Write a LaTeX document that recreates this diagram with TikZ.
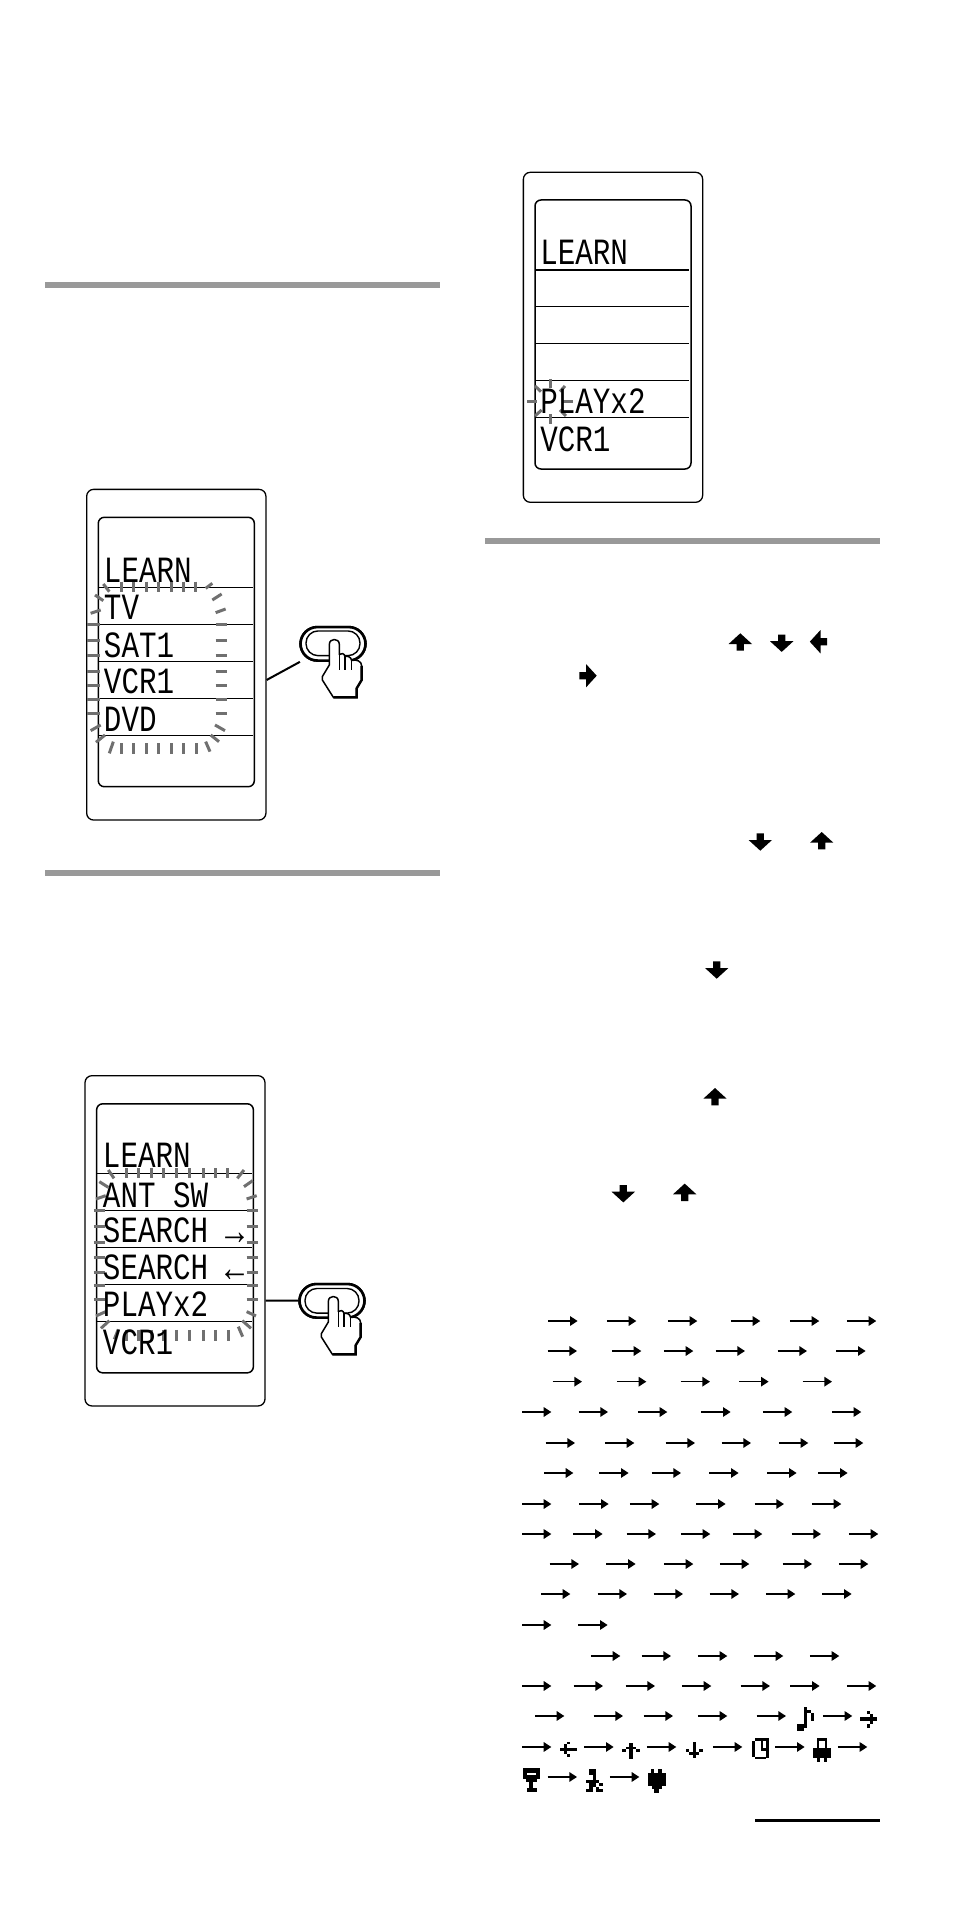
\documentclass[tikz,border=0pt]{standalone}
\usepackage{fontspec}
\usetikzlibrary{arrows.meta,shapes.misc}
\newfontfamily\lcdfont[FakeStretch=0.79]{Liberation Mono}
\definecolor{tickgray}{HTML}{707070}
\definecolor{bargray}{HTML}{999999}
\tikzset{
  devbox/.style={draw=black,line width=1.3pt,rounded corners=7pt,fill=white,inner sep=0pt,minimum width=#1},
  screenbox/.style={draw=black,line width=1.5pt,rounded corners=6pt,inner sep=0pt,minimum width=#1},
  lcd/.style={anchor=base west,inner sep=0pt,outer sep=0pt,font=\lcdfont\fontsize{37}{37}\selectfont},
  row/.style={line width=1.1pt},
  flash/.style={draw=tickgray,line width=3pt},
  sarrow/.style={line width=1.6pt,-{Triangle[length=7.6pt,width=9.4pt]}},
  btnout/.style={rectangle,draw=black,line width=2.6pt,fill=white,rounded corners=17pt,minimum width=65pt,minimum height=33.5pt,inner sep=0pt},
  btnin/.style={rectangle,draw=black,line width=1.4pt,rounded corners=12pt,minimum width=54pt,minimum height=24.7pt,inner sep=0pt},
  link/.style={line width=2pt},
  handline/.style={draw=black,line width=1.5pt,fill=white,line join=round},
  bar/.style={fill=bargray}
}
\newcommand{\lcdarr}[1]{\raisebox{-2pt}{\fontsize{40}{37}\selectfont #1}}
\newcommand{\bigarr}[3]{%
  \fill[black,shift={(#1,#2)},rotate=#3] (0,-8.7) -- (11.7,2) -- (3.6,2) -- (3.6,8.7) -- (-3.6,8.7) -- (-3.6,2) -- (-11.7,2) -- cycle;}
\newcommand{\handat}[1]{%
  \begin{scope}[shift={(#1)},x=0.3333pt,y=-0.3333pt]
    \draw[handline] (-11,63.5) -- (-11,2) .. controls (-11,-18) and (19,-18) .. (19,2) -- (19,32) .. controls (24,27) and (34,28) .. (36,38) .. controls (42,36) and (54,38) .. (56,50) .. controls (70,46) and (86,52) .. (86,66) -- (86,108.5) -- (71,133.5) -- (71,160.5) -- (1,160.5) -- (-32,108.5) -- (-32,98.5) -- cycle;
    \draw[line width=1.5pt] (19,32) -- (19,78) (36,38) -- (36,80) (56,50) -- (56,80);
    \draw[line width=2.4pt] (86,66) -- (86,108.5) -- (71,133.5) -- (71,160.5) -- (1,160.5);
  \end{scope}}
\begin{document}
\begin{tikzpicture}[x=1pt,y=-1pt]
\useasboundingbox (0,0) rectangle (954,1905);
\fill[white] (0,0) rectangle (954,1905);
% section bars
\fill[bar] (45,282) rectangle (440,288);
\fill[bar] (45,870) rectangle (440,876);
\fill[bar] (485,538) rectangle (880,544);
\coordinate (ruleA) at (755,1820.5);
\coordinate (ruleB) at (880,1820.5);
\draw[line width=2.7pt] (ruleA) -- (ruleB);

% ---- device 1
\node[devbox=179.3pt,minimum height=330.7pt] (dev1) at (176.3,654.7) {};
\node[screenbox=156pt,minimum height=269.4pt] (scr1) at (176.3,652) {};
\begin{scope}[shift={(70,480)},x=0.3333pt,y=-0.3333pt]
  \foreach \yy in {322,433,544,655,766} \draw[row] (85,\yy) -- (549,\yy);
  \foreach \xx in {155,192,230,267,305,342,378} \draw[flash] (\xx,305) -- (\xx,335);
  \foreach \xx in {155,192,230,267,305,342,380} \draw[flash] (\xx,790) -- (\xx,822);
  \foreach \yy in {433,481,527,575,618,660,702} {\draw[flash] (52,\yy) -- (90,\yy); \draw[flash] (437,\yy) -- (470,\yy);}
  \foreach \a/\b/\c/\d in {100/312/118/335,75/345/100/362,62/400/92/390,62/752/92/735,78/787/105/765,118/820/130/785,420/815/407/785,447/785/422/765,465/752/435/735,437/398/467/387,427/360/455/342,407/325/427/310}
    \draw[flash] (\a,\b) -- (\c,\d);
  \node[lcd] (t1a) at (102,307) {LEARN};
  \node[lcd] (t1b) at (102,419) {TV};
  \node[lcd] (t1c) at (102,532) {SAT1};
  \node[lcd] (t1d) at (102,642) {VCR1};
  \node[lcd] (t1e) at (102,754) {DVD};
  \coordinate (l1) at (590,600);
\end{scope}
\node[btnout] (btn1) at (333,643.8) {};
\draw[link] (l1) -- (btn1);
\node[btnout] at (btn1) {};
\node[btnin] (btn1i) at (333,643.3) {};
\handat{btn1.center}

% ---- device 2
\node[devbox=180pt,minimum height=330.3pt] (dev2) at (175,1240.8) {};
\node[screenbox=156.7pt,minimum height=269pt] (scr2) at (175,1238.3) {};
\begin{scope}[shift={(70,1070)},x=0.3333pt,y=-0.3333pt]
  \foreach \yy in {310,421,532,643,754} \draw[row] (80,\yy) -- (547,\yy);
  \foreach \xx in {170,207,245,282,320,360,400,438,472} \draw[flash] (\xx,295) -- (\xx,325);
  \foreach \xx in {170,207,245,282,320,360,400,438,475} \draw[flash] (\xx,780) -- (\xx,812);
  \foreach \yy in {421,470,517,563,607,648,690} {\draw[flash] (72,\yy) -- (105,\yy); \draw[flash] (530,\yy) -- (565,\yy);}
  \foreach \a/\b/\c/\d in {115/300/132/325,88/335/115/352,78/387/107/377,78/738/107/725,93/775/118/752,133/808/145/778,518/800/505/770,543/775/517/752,558/738/530/725,530/387/560/377,522/350/548/332,502/325/522/300}
    \draw[flash] (\a,\b) -- (\c,\d);
  \node[lcd] (t2a) at (99,292) {LEARN};
  \node[lcd] (t2b) at (99,412) {ANT SW};
  \node[lcd] (t2c) at (99,519) {SEARCH \lcdarr{→}};
  \node[lcd] (t2d) at (99,629) {SEARCH \lcdarr{←}};
  \node[lcd] (t2e) at (99,740) {PLAYx2};
  \node[lcd] (t2f) at (99,855) {VCR1};
  \coordinate (l2) at (587,692);
\end{scope}
\node[btnout] (btn2) at (332,1300.8) {};
\draw[link] (l2) -- (btn2);
\node[btnout] at (btn2) {};
\node[btnin] (btn2i) at (332,1300.8) {};
\handat{btn2.center}

% ---- device 3
\node[devbox=179.3pt,minimum height=330pt] (dev3) at (613,337.3) {};
\node[screenbox=156pt,minimum height=269pt] (scr3) at (613,334.5) {};
\begin{scope}[shift={(510,160)},x=0.3333pt,y=-0.3333pt]
  \foreach \yy in {330,439,550,661,772} \draw[row] (75,\yy) -- (537,\yy);
  \foreach \a/\b/\c/\d in {52/725/80/725,160/725/190/725,120/657/120/685,120/762/120/792,75/678/93/695,165/678/150/695,75/768/95/750,168/768/150/750}
    \draw[flash] (\a,\b) -- (\c,\d);
  \node[lcd] (t3a) at (91,315) {LEARN};
  \node[lcd] (t3b) at (91,760) {PLAYx2};
  \node[lcd] (t3c) at (91,875) {VCR1};
\end{scope}

% ---- big arrows
\bigarr{740.3}{642}{0}
\bigarr{781.7}{643.2}{180}
\bigarr{818.5}{641.7}{90}
\bigarr{588}{675.7}{-90}
\bigarr{760.3}{842}{180}
\bigarr{821.7}{840.7}{0}
\bigarr{716.7}{970}{180}
\bigarr{715}{1096.7}{0}
\bigarr{623.3}{1193.7}{180}
\bigarr{684.7}{1192.3}{0}

% ---- sequence arrows
\begin{scope}[shift={(510,1300)},x=0.3333pt,y=-0.3333pt]
  \foreach \yy/\xs in {63/{115,291,474,663,840,1011},153/{113,306,462,617,803,979},245/{128,321,512,688,878},336/{36,206,384,574,759,966},429/{107,285,467,635,807,972},519/{102,268,425,598,772,925}}
    \foreach \xx in \xs \draw[sarrow] (\xx,\yy) -- ++(88,0);
\end{scope}
\begin{scope}[shift={(510,1500)},x=0.3333pt,y=-0.3333pt]
  \foreach \yy/\xs in {12/{36,208,360,559,734,906},102/{36,190,350,513,669,845,1017},192/{119,289,462,630,818,987},282/{93,263,431,599,768,937},375/{36,205},468/{243,395,564,732,900},558/{36,191,347,516,692,841,1011},648/{75,251,401,564,740,939},741/{36,223,411,609,796,984},831/{113,300}}
    \foreach \xx in \xs \draw[sarrow] (\xx,\yy) -- ++(88,0);
  % pixel icons
  \foreach \a/\b/\c/\d in {
    861/672/882/693,882/621/890/685,890/630/903/640,903/640/911/662,
    1050/651/1100/662,1072/633/1080/643,1080/643/1090/651,1080/662/1090/672,1072/672/1080/684,
    150/743/200/753,172/725/180/733,163/733/172/743,163/753/172/762,172/762/180/772,
    358/730/368/777,348/740/378/748,337/748/347/757,379/748/389/757,
    549/725/557/775,537/757/568/766,527/748/537/757,568/748/578/757,
    725/722/735/770,735/715/768/722,768/715/778/775,735/770/768/778,752/722/760/753,760/745/768/753,
    920/715/952/722,920/722/928/745,944/722/952/745,910/745/962/775,920/775/930/785,942/775/952/785,
    38/805/90/818,38/818/50/826,78/818/90/826,38/826/90/838,47/838/80/847,58/847/70/865,50/865/80/877,
    238/808/258/825,248/825/258/840,228/840/268/850,268/850/278/858,238/850/258/860,238/860/248/868,228/868/248/877,258/860/268/868,258/868/278/877,
    423/808/433/818,445/808/455/818,415/818/467/858,425/858/457/868,433/868/447/878}
    \fill[black] (\a,\b) rectangle (\c,\d);
\end{scope}
\end{tikzpicture}
\end{document}
